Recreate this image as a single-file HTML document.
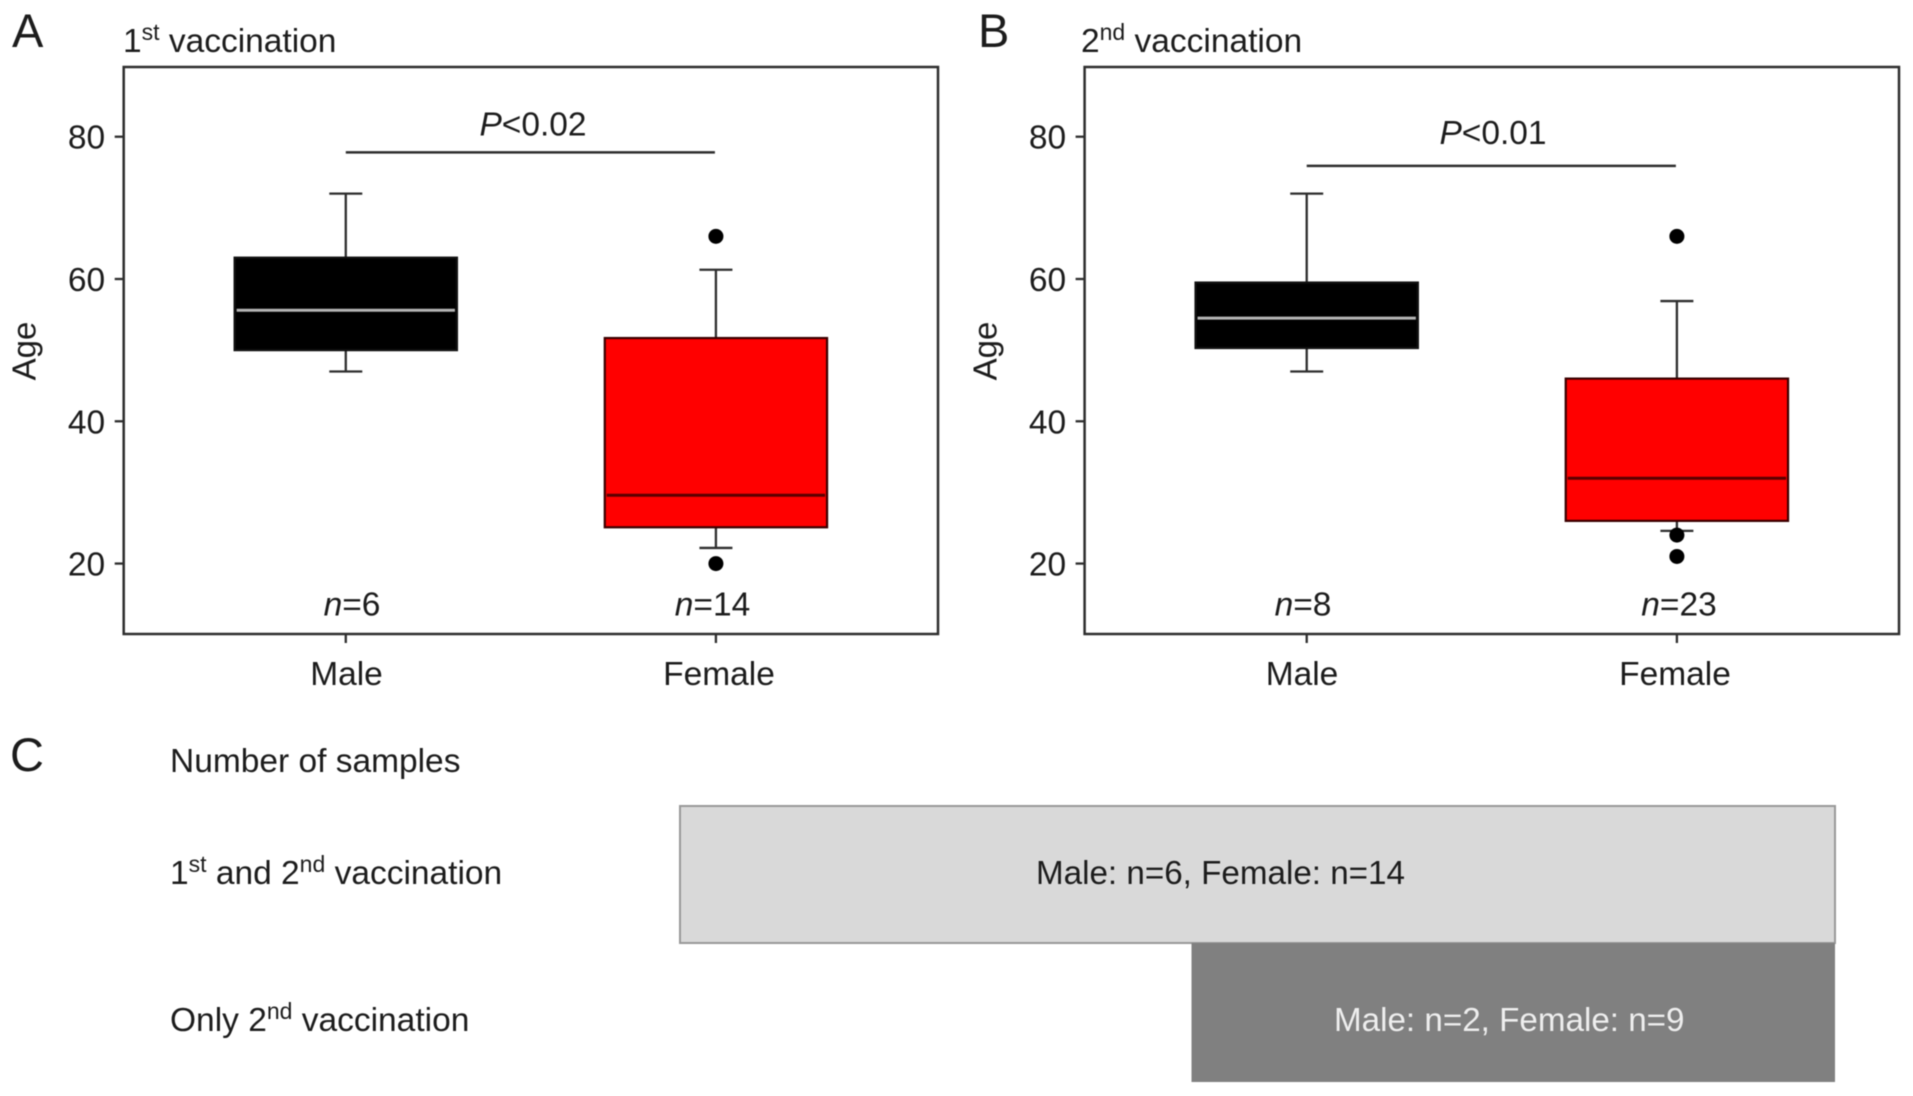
<!DOCTYPE html>
<html lang="en">
<head>
<meta charset="utf-8">
<title>Age by sex and vaccination</title>
<style>
html,body{margin:0;padding:0;background:#fff;width:1913px;height:1096px;overflow:hidden}
svg{display:block;filter:blur(0.6px)}
text{font-family:"Liberation Sans",sans-serif;fill:#1c1c1c}
</style>
</head>
<body>
<svg id="figure" width="1913" height="1096" viewBox="0 0 1913 1096" xmlns="http://www.w3.org/2000/svg">
  <rect width="1913" height="1096" fill="#fff"/>
  <text x="12" y="47" font-size="47">A</text>
  <text x="978" y="47" font-size="47">B</text>
  <text x="10" y="771" font-size="47">C</text>
  <text x="123" y="52" font-size="33.5">1<tspan font-size="23" dy="-12">st</tspan><tspan dy="12"> vaccination</tspan></text>
  <text x="1081" y="52" font-size="33.5">2<tspan font-size="23" dy="-12">nd</tspan><tspan dy="12"> vaccination</tspan></text>

  <text x="170" y="772" font-size="33.5">Number of samples</text>
  <text x="170" y="884" font-size="33.5">1<tspan font-size="23" dy="-12">st</tspan><tspan dy="12"> and 2</tspan><tspan font-size="23" dy="-12">nd</tspan><tspan dy="12"> vaccination</tspan></text>
  <text x="170" y="1031" font-size="33.5">Only 2<tspan font-size="23" dy="-12">nd</tspan><tspan dy="12"> vaccination</tspan></text>
  <rect x="680" y="806" width="1155" height="137" fill="#d9d9d9" stroke="#999" stroke-width="2"/>
  <rect x="1191.5" y="943" width="643.5" height="139" fill="#808080"/>
  <text x="1036" y="884" font-size="33.2">Male: n=6, Female: n=14</text>
  <text x="1334" y="1031" font-size="33.2" style="fill:#eee">Male: n=2, Female: n=9</text>
  <g id="plots"></g>
</svg>
<script>
const categories = ['Male', 'Female'];
const yTicks = [20, 40, 60, 80];
const yDomain = [10.1, 89.8];

// Each box: [lower whisker, Q1, median, Q3, upper whisker]
const panelAStats = [[47, 50, 55.6, 63, 72], [22.2, 25.1, 29.6, 51.7, 61.3]];
const panelAOutliers = [[], [66, 20]];
const panelACounts = [6, 14];
const panelASigValue = [77.8];
const panelASigLabel = ['<0.02'];

const panelBStats = [[47, 50.3, 54.5, 59.5, 72], [24.6, 26, 32, 46, 56.9]];
const panelBOutliers = [[], [66, 24, 21]];
const panelBCounts = [8, 23];
const panelBSigValue = [75.9];
const panelBSigLabel = ['<0.01'];

const NS = 'http://www.w3.org/2000/svg';
const plots = document.getElementById('plots');
const frameTop = 67, frameBottom = 634;

function yScale(v) {
  return frameBottom - (v - yDomain[0]) / (yDomain[1] - yDomain[0]) * (frameBottom - frameTop);
}
function xScale(frame, i) {
  return frame.left + (i + 0.6) / 2.2 * (frame.right - frame.left);
}
function svgEl(tag, attrs, parent, text) {
  const el = document.createElementNS(NS, tag);
  for (const k in attrs) el.setAttribute(k, attrs[k]);
  if (text !== undefined) el.textContent = text;
  parent.appendChild(el);
  return el;
}
function line(parent, x1, y1, x2, y2, color, width) {
  return svgEl('line', {x1: x1, y1: y1, x2: x2, y2: y2, stroke: color, 'stroke-width': width}, parent);
}

function drawPanel(id, frame, stats, outliers, counts, sigValue, sigLabel, labelX) {
  const g = svgEl('g', {}, plots);
  
  

  const border = svgEl('rect', {x: frame.left, y: frameTop, width: frame.right - frame.left, height: frameBottom - frameTop, fill: 'none', stroke: '#2e2e2e', 'stroke-width': 2.5}, g);
  
  

  yTicks.forEach(function (t) {
    const tick = line(g, frame.left - 9, yScale(t), frame.left, yScale(t), '#2e2e2e', 2.3);
    
    
    const lab = svgEl('text', {x: frame.left - 18.5, y: yScale(t) + 12, 'font-size': 33.5, 'text-anchor': 'end'}, g, String(t));
    
    
  });

  const axisTitle = svgEl('text', {transform: 'translate(' + (frame.left - 88) + ' 351) rotate(-90)', 'font-size': 33, 'text-anchor': 'middle'}, g, 'Age');
  
  

  categories.forEach(function (cat, i) {
    const cx = xScale(frame, i);
    const s = stats[i];
    const fill = i === 0 ? '#000' : '#f00';
    const medianColor = i === 0 ? '#b5b5b5' : '#5a0000';
    const halfBox = (frame.right - frame.left) * 0.1365;
    const capHalf = 16.5;

    const tick = line(g, cx, frameBottom, cx, frameBottom + 9, '#2e2e2e', 2.3);
    
    

    const catLabel = svgEl('text', {x: labelX.cat[i], y: 685, 'font-size': 33.5, 'text-anchor': 'middle'}, g, cat);
    
    

    const whiskerLow = line(g, cx, yScale(s[0]), cx, yScale(s[1]), '#2e2e2e', 2.3);
    
    
    const whiskerHigh = line(g, cx, yScale(s[3]), cx, yScale(s[4]), '#2e2e2e', 2.3);
    
    
    const capLow = line(g, cx - capHalf, yScale(s[0]), cx + capHalf, yScale(s[0]), '#2e2e2e', 2.3);
    
    
    const capHigh = line(g, cx - capHalf, yScale(s[4]), cx + capHalf, yScale(s[4]), '#2e2e2e', 2.3);
    
    

    const box = svgEl('rect', {x: cx - halfBox, y: yScale(s[3]), width: halfBox * 2, height: yScale(s[1]) - yScale(s[3]), fill: fill, stroke: i === 0 ? '#111' : '#3a0000', 'stroke-width': 2.2}, g);
    
    

    const med = line(g, cx - halfBox + 2, yScale(s[2]), cx + halfBox - 2, yScale(s[2]), medianColor, 3);
    
    

    outliers[i].forEach(function (v) {
      const dot = svgEl('circle', {cx: cx, cy: yScale(v), r: 7.5, fill: '#000'}, g);
      
      
    });

    const nLabel = svgEl('text', {x: labelX.n[i], y: 615.5, 'font-size': 33.5, 'text-anchor': 'middle'}, g);
    
    
    svgEl('tspan', {'font-style': 'italic'}, nLabel, 'n');
    svgEl('tspan', {}, nLabel, '=' + counts[i]);
  });

  const sigY = yScale(sigValue[0]);
  const sig = line(g, xScale(frame, 0), sigY, xScale(frame, 1) - 1, sigY, '#2e2e2e', 2.4);
  
  
  const pLabel = svgEl('text', {x: labelX.p, y: sigY - labelX.pGap, 'font-size': 33.5, 'text-anchor': 'middle'}, g);
  
  
  svgEl('tspan', {'font-style': 'italic'}, pLabel, 'P');
  svgEl('tspan', {}, pLabel, sigLabel[0]);
}

drawPanel('panel-a', {left: 123.7, right: 938}, panelAStats, panelAOutliers, panelACounts, panelASigValue, panelASigLabel,
  {cat: [346.5, 719], n: [352, 712.5], p: 533, pGap: 17});
drawPanel('panel-b', {left: 1084.6, right: 1899}, panelBStats, panelBOutliers, panelBCounts, panelBSigValue, panelBSigLabel,
  {cat: [1302, 1675], n: [1303, 1679], p: 1493, pGap: 22});
</script>
</body>
</html>
